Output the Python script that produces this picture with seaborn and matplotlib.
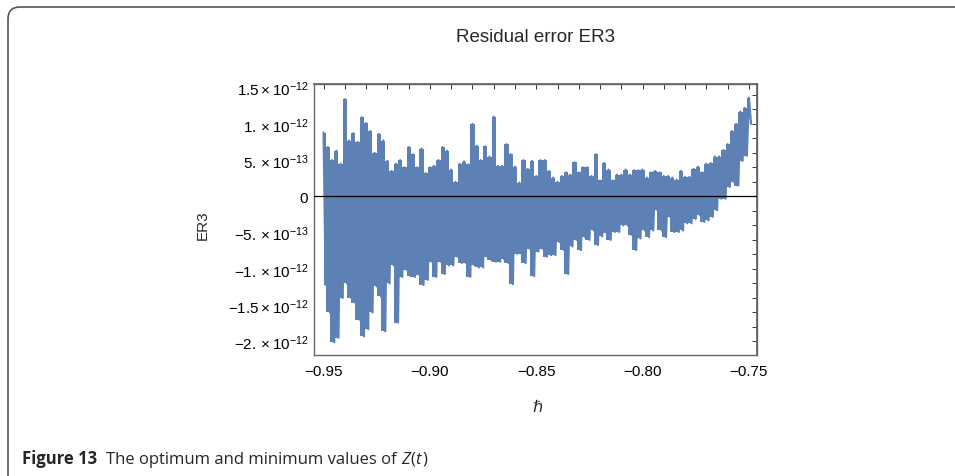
import numpy as np
import pandas as pd
import matplotlib
matplotlib.use("Agg")
import matplotlib.pyplot as plt
import seaborn as sns
from matplotlib.ticker import MultipleLocator
from matplotlib.patches import FancyBboxPatch
from matplotlib.transforms import IdentityTransform

# ---------------- data (units of 1e-13) ----------------
h_start = -0.95
h_end = -0.75
upper_e13 = [8.8, 6.8, 5.0, 6.3, 4.5, 13.4, 7.7, 8.7, 7.5, 10.9,
             10.1, 9.0, 6.0, 8.6, 7.7, 4.9, 3.5, 4.5, 5.0, 4.0,
             6.8, 5.8, 4.0, 6.6, 3.2,
             4.0, 4.2, 5.0, 6.8, 6.3, 3.7, 2.0, 4.5, 4.8, 4.4,
             10.0, 7.0, 5.0, 6.9, 5.5, 11.0, 4.2, 4.2, 7.2, 5.8,
             4.1, 1.9, 5.0, 3.8, 4.9,
             2.8, 5.0, 5.0, 3.5, 2.6, 2.0, 2.8, 3.3, 3.0, 4.7,
             3.3, 4.0, 4.0, 2.8, 5.8, 2.2, 4.6, 3.7, 2.2, 3.0,
             3.0, 3.7, 3.0, 3.6, 3.6, 3.7,
             2.6, 3.3, 3.5, 3.3, 2.8, 2.8, 2.6, 2.3, 3.5, 2.7,
             2.7, 3.8, 4.1, 3.3, 4.5, 4.6, 5.5, 5.5, 6.4, 7.2,
             9.0, 10.0, 11.7, 12.2, 13.6]
lower_e13 = [-12.2, -16.0, -20.1, -19.5, -14.0, -12.0, -14.0, -14.7, -17.0, -19.3,
             -18.3, -16.0, -12.4, -13.8, -18.6, -12.0, -9.5, -17.4, -11.1, -10.1,
             -11.0, -11.1, -10.8, -12.2, -11.5,
             -9.0, -11.1, -9.0, -10.7, -9.5, -9.5, -8.3, -9.2, -9.2, -11.1,
             -9.5, -9.8, -9.8, -8.3, -8.8, -9.0, -9.0, -8.7, -9.2, -12.1,
             -7.9, -7.9, -9.2, -7.2, -11.0,
             -7.6, -7.2, -8.3, -8.1, -8.1, -6.3, -7.4, -10.7, -6.9, -6.0,
             -7.4, -5.6, -6.0, -4.7, -6.7, -5.5, -5.0, -6.0, -4.9, -4.9,
             -4.0, -4.0, -5.3, -7.4, -5.8, -4.7,
             -5.6, -4.7, -1.9, -4.7, -5.6, -2.8, -4.9, -4.9, -4.7, -3.7,
             -3.7, -3.1, -2.6, -3.5, -3.3, -2.8, -1.9, -0.3, -0.3, 1.3,
             2.0, 1.5, 4.9, 5.6, 10.0]

xticks = [-0.95, -0.90, -0.85, -0.80, -0.75]
xtick_labels = ["\u22120.95", "\u22120.90", "\u22120.85", "\u22120.80", "\u22120.75"]
yticks = [-2e-12, -1.5e-12, -1e-12, -5e-13, 0.0, 5e-13, 1e-12, 1.5e-12]
ytick_labels = [r"$-2.\times10^{-12}$", r"$-1.5\times10^{-12}$", r"$-1.\times10^{-12}$",
                r"$-5.\times10^{-13}$", r"$0$", r"$5.\times10^{-13}$",
                r"$1.\times10^{-12}$", r"$1.5\times10^{-12}$"]

title = "Residual error ER3"
ylabel = "ER3"
xlabel = "\u210f"

# ---------------- build long-form table ----------------
n = len(upper_e13)
h = np.linspace(h_start, h_end, n)
step = (h_end - h_start) / (n - 1)
upper = np.array(upper_e13) * 1e-13
lower = np.array(lower_e13) * 1e-13
xs = np.empty(2 * n)
ys = np.empty(2 * n)
xs[0::2] = h
xs[1::2] = h + step / 2
ys[0::2] = upper
ys[1::2] = lower
df = pd.DataFrame({"h": xs, "ER3": ys})

# ---------------- style ----------------
sns.set_theme(style="white")
plt.rcParams["font.family"] = ["Liberation Sans", "DejaVu Sans"]
plt.rcParams["mathtext.fontset"] = "custom"
plt.rcParams["mathtext.rm"] = "Liberation Sans"
plt.rcParams["mathtext.it"] = "Liberation Sans:italic"
plt.rcParams["mathtext.bf"] = "Liberation Sans:bold"
plt.rcParams["axes.unicode_minus"] = True

W, H = 955, 477
fig = plt.figure(figsize=(W / 100, H / 100), dpi=100)
fig.patch.set_facecolor("white")

ax_l, ax_r, ax_t, ax_b = 314, 757, 85, 355.5
ax = fig.add_axes([ax_l / W, 1 - ax_b / H, (ax_r - ax_l) / W, (ax_b - ax_t) / H])
ax.set_facecolor("white")

line_col = "#5E81B5"
ax.fill_between(h, lower, upper, step="mid", color=line_col, lw=0, zorder=1.5)
sns.lineplot(data=df, x="h", y="ER3", sort=False, estimator=None,
             color=line_col, lw=1.6, ax=ax, solid_joinstyle="round")
ax.axhline(0, color="black", lw=0.9, zorder=3)

ax.set_xlim(-0.9545, -0.7462)
ax.set_ylim(-2.18e-12, 1.55e-12)

ax.set_xticks(xticks)
ax.set_xticklabels(xtick_labels)
ax.xaxis.set_minor_locator(MultipleLocator(0.01))
ax.set_yticks(yticks)
ax.set_yticklabels(ytick_labels)
ax.yaxis.set_minor_locator(MultipleLocator(1e-13))
ax.set_xlabel("")
ax.set_ylabel("")

tick_col = "#333333"
ax.tick_params(axis="both", which="major", direction="in", length=5, width=0.8,
               color=tick_col, labelsize=11, labelcolor="black")
ax.tick_params(axis="both", which="minor", direction="in", length=3, width=0.7,
               color=tick_col)
ax.tick_params(axis="x", which="both", pad=7, top=False)
ax.tick_params(axis="y", which="both", pad=4, right=False)

for s in ax.spines.values():
    s.set_color("#666666")
    s.set_linewidth(1.0)
    s.set_visible(True)

top = ax.secondary_xaxis("top")
top.xaxis.set_major_locator(MultipleLocator(0.01))
top.tick_params(direction="in", length=3.5, width=0.7, color=tick_col, labeltop=False)
top.spines["top"].set_color("#666666")
right = ax.secondary_yaxis("right")
right.yaxis.set_major_locator(MultipleLocator(2e-13))
right.tick_params(direction="in", length=3.5, width=0.7, color=tick_col, labelright=False)
right.spines["right"].set_color("#666666")

# ---------------- texts ----------------
fig.text((ax_l + ax_r) / 2 / W, 1 - 37 / H, title, ha="center", va="center", fontsize=13.5)
fig.text(203 / W, 1 - 225 / H, ylabel, rotation=90, ha="center", va="center", fontsize=11)
fig.text(537 / W, 1 - 408 / H, xlabel, ha="center", va="center", fontsize=11.5,
         style="italic", family=["DejaVu Sans"])

# caption built piece by piece
renderer = fig.canvas.get_renderer()
cap_y = 1 - 464 / H
cap_font = ["Open Sans", "DejaVu Sans"]
cap_size = 12
pieces = [("Figure 13", "bold", "normal", 0),
          ("The optimum and minimum values of", "normal", "normal", 9),
          ("Z", "normal", "italic", 4),
          ("(", "normal", "normal", 1),
          ("t", "normal", "italic", 0),
          (")", "normal", "normal", 1)]
x_px = 22
for txt, wt, st, gap in pieces:
    x_px += gap
    t = fig.text(x_px / W, cap_y, txt, ha="left", va="baseline", fontsize=cap_size,
                 weight=wt, style=st, family=cap_font)
    bb = t.get_window_extent(renderer)
    x_px = bb.x1

# rounded frame around the figure
frame = FancyBboxPatch((8, -40), 1000, H - 8 + 40, boxstyle="round,pad=0,rounding_size=12",
                       transform=IdentityTransform(), fill=False, edgecolor="#555555", lw=1.2)
fig.add_artist(frame)

fig.savefig("out.png", dpi=100, facecolor="white")
